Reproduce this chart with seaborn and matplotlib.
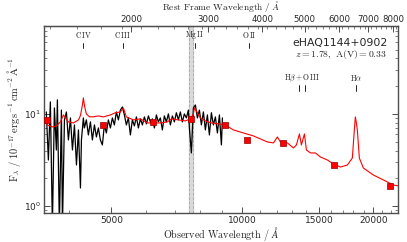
import numpy as np
import pandas as pd
import seaborn as sns
import matplotlib
matplotlib.use("Agg")
from matplotlib import pyplot as plt
from matplotlib import ticker

# observed spectrum (black)
spec_wave = [3543, 3582, 3620, 3659, 3698, 3737, 3757, 3797, 3838, 3859, 3900, 3941,
             3983, 4026, 4069, 4112, 4156, 4200, 4245, 4267, 4311, 4334, 4380, 4427,
             4475, 4522, 4571, 4619, 4668, 4717, 4767, 4818, 4869, 4921, 4974, 5027,
             5080, 5134, 5189, 5244, 5300, 5356, 5413, 5471, 5529, 5588, 5648, 5708,
             5769, 5830, 5893, 5955, 6019, 6083, 6147, 6213, 6279, 6345, 6412, 6480,
             6549, 6619, 6689, 6761, 6833, 6906, 6979, 7053, 7128, 7204, 7281, 7358,
             7437, 7516, 7556, 7636, 7718, 7800, 7883, 7967, 8052, 8138, 8224, 8312,
             8400, 8490, 8580, 8672, 8764, 8858, 8952, 9000]
spec_flux = [10.5, 3.16, 13.5, 0.6, 11.6, 4.06, 14.2, 0.6, 11.0, 0.6, 8.61, 10.5,
             5.22, 9.05, 4.06, 7.59, 2.79, 6.70, 1.57, 5.22, 9.05, 7.04, 8.61, 5.91,
             8.19, 5.22, 7.59, 5.62, 7.04, 5.22, 4.60, 7.59, 6.21, 8.61, 7.04, 9.05,
             7.59, 10.5, 8.61, 11.0, 11.9, 9.75, 7.59, 9.05, 5.91, 8.61, 7.41, 9.28,
             7.04, 8.83, 7.59, 9.28, 7.79, 9.51, 8.19, 8.83, 7.04, 9.75, 8.19, 9.05,
             6.70, 9.51, 8.19, 10.0, 7.59, 9.51, 8.19, 10.3, 8.61, 10.5, 8.19, 10.0,
             9.05, 11.0, 7.04, 3.77, 11.6, 12.5, 9.05, 11.0, 7.59, 10.5, 6.70, 9.75,
             5.91, 10.3, 7.59, 9.28, 6.21, 9.75, 4.60, 9.05]

# model spectrum (red)
model_wave = [3507, 3563, 3659, 3737, 3817, 3879, 3983, 4090, 4200, 4245, 4289, 4311,
              4340, 4380, 4450, 4546, 4668, 4792, 4974, 5107, 5244, 5328, 5413, 5618, 5830,
              6051, 6246, 6480, 6725, 6869, 7128, 7397, 7596, 7718, 7760, 7883, 8009,
              8224, 8490, 8810, 9142, 9538, 10055, 10602, 11003, 11420, 11789, 12041,
              12234, 12696, 13106, 13316, 13530, 13674, 13893, 14041, 14341, 14722,
              15117, 15691, 16196, 16807, 17443, 17905, 18095, 18191, 18290, 18385,
              18581, 18979, 20010, 21096, 22242, 22960]
model_flux = [8.61, 7.59, 7.22, 7.41, 8.19, 9.75, 8.19, 7.98, 8.6, 9.6, 12.5, 14.9,
              12.0, 10.0, 9.3, 9.3, 9.51, 9.28, 9.75, 10.3, 10.5, 11.6, 9.28, 8.61, 8.83,
              7.98, 7.98, 7.98, 8.19, 8.83, 8.61, 8.39, 8.83, 10.0, 11.6, 10.3, 9.05,
              8.39, 7.98, 7.79, 7.59, 6.70, 6.21, 5.77, 5.35, 4.96, 4.84, 5.62,
              4.96, 4.84, 4.27, 4.60, 6.06, 4.60, 6.06, 4.06, 3.77, 3.77,
              3.41, 3.16, 2.86, 2.65, 2.79, 3.32, 6.70, 9.28, 8.0, 6.70,
              3.32, 2.59, 2.17, 1.92, 1.69, 1.65]

# photometry (red squares)
phot_wave = [3563, 4790, 6246, 7640, 9140, 10274, 12430, 16280, 21890]
phot_flux = [8.6, 7.6, 8.2, 8.8, 7.59, 5.22, 4.84, 2.79, 1.65]

z = 1.78
line_names = [r"$\mathrm{C\,IV}$", r"$\mathrm{C\,III}$", r"$\mathrm{Mg\,II}$", r"$\mathrm{O\,II}$"]
line_rest = [1549, 1909, 2798, 3727]
line_names2 = [r"$\mathrm{H}\beta+\mathrm{O\,III}$", r"$\mathrm{H}\alpha$"]
line_rest2 = [4861, 5007]
halpha = 6563

sns.set_style("ticks")
plt.rcParams["mathtext.fontset"] = "cm"
plt.rcParams["font.family"] = ["DejaVu Sans"]
plt.rcParams["xtick.direction"] = "in"
plt.rcParams["ytick.direction"] = "in"

fig = plt.figure(figsize=(4.07, 2.42), dpi=100)
ax = fig.add_axes([44 / 407, 29 / 242, 354 / 407, 187 / 242])

df_spec = pd.DataFrame({"wave": spec_wave, "flux": spec_flux})
df_model = pd.DataFrame({"wave": model_wave, "flux": model_flux})
df_phot = pd.DataFrame({"wave": phot_wave, "flux": phot_flux})

ax.axvspan(7550, 7700, color="0.85", zorder=0)
for xv in (7550, 7700):
    ax.axvline(xv, color="0.65", lw=0.6, ls="--", zorder=0)

sns.lineplot(data=df_spec, x="wave", y="flux", ax=ax, color="black", lw=0.9,
             estimator=None, sort=False, zorder=2)
sns.lineplot(data=df_model, x="wave", y="flux", ax=ax, color="red", lw=0.8,
             estimator=None, sort=False, zorder=3)
sns.scatterplot(data=df_phot, x="wave", y="flux", ax=ax, marker="s", s=22,
                color="red", edgecolor="#990000", linewidth=0.5, zorder=5)

ax.set_xscale("log")
ax.set_yscale("log")
ax.set_xlim(3500, 22800)
ax.set_ylim(0.84, 90)

ax.xaxis.set_major_locator(ticker.FixedLocator([5000, 10000, 15000, 20000]))
ax.xaxis.set_major_formatter(ticker.FormatStrFormatter("%d"))
ax.xaxis.set_minor_locator(ticker.FixedLocator([4000, 6000, 7000, 8000, 9000, 11000, 12000,
                                                13000, 14000, 16000, 17000, 18000, 19000,
                                                21000, 22000]))
ax.xaxis.set_minor_formatter(ticker.NullFormatter())
ax.tick_params(axis="both", which="major", labelsize=6.5, length=4, width=0.7,
               color="0.3", top=False, right=True, pad=2)
ax.tick_params(axis="both", which="minor", length=2, width=0.5, color="0.3",
               top=False, right=True)
for s in ax.spines.values():
    s.set_color("0.3")
    s.set_linewidth(1.0)

ax.set_xlabel(r"$\mathrm{Observed\ Wavelength}\ /\ \AA$", fontsize=7.3, labelpad=0)
ax.set_ylabel(r"$\mathrm{F}_\lambda\ /\ 10^{-17}\,\mathrm{erg\,s^{-1}\,cm^{-2}\,\AA^{-1}}$",
              fontsize=7.5, labelpad=1)

sec = ax.secondary_xaxis("top", functions=(lambda x: x / (1 + z), lambda x: x * (1 + z)))
sec.xaxis.set_major_locator(ticker.FixedLocator([2000, 3000, 4000, 5000, 6000, 7000, 8000]))
sec.xaxis.set_major_formatter(ticker.FormatStrFormatter("%d"))
sec.xaxis.set_minor_locator(ticker.FixedLocator(np.arange(1300, 8300, 200)))
sec.xaxis.set_minor_formatter(ticker.NullFormatter())
sec.tick_params(which="major", labelsize=6.2, length=4, width=0.7, color="0.3", direction="in", pad=1.5)
sec.tick_params(which="minor", length=2, width=0.5, color="0.3", direction="in")
fig.text(0.543, 1 - 6 / 242, r"$\mathrm{Rest\ Frame\ Wavelength}\ /\ \AA$", fontsize=6.8,
         ha="center", va="center")

trans = ax.get_xaxis_transform()
for name, lam in zip(line_names, line_rest):
    xo = lam * (1 + z)
    ax.text(xo, 0.952, name, transform=trans, ha="center", va="center", fontsize=5.5)
    ax.plot([xo, xo], [0.884, 0.910], transform=trans, color="black", lw=0.6)
for lam in line_rest2:
    xo = lam * (1 + z)
    ax.plot([xo, xo], [0.651, 0.683], transform=trans, color="black", lw=0.6)
ax.text(np.sqrt(line_rest2[0] * line_rest2[1]) * (1 + z), 0.72, line_names2[0],
        transform=trans, ha="center", va="center", fontsize=5.5)
ax.text(halpha * (1 + z), 0.72, line_names2[1], transform=trans, ha="center",
        va="center", fontsize=5.5)
ax.plot([halpha * (1 + z)] * 2, [0.651, 0.683], transform=trans, color="black", lw=0.6)

ax.text(0.97, 0.91, "eHAQ1144+0902", transform=ax.transAxes, ha="right", va="center",
        fontsize=7.8)
ax.text(0.97, 0.845, r"$z = 1.78,\ \mathrm{A(V)} = 0.33$", transform=ax.transAxes,
        ha="right", va="center", fontsize=7)

fig.savefig("out.png", dpi=100)
